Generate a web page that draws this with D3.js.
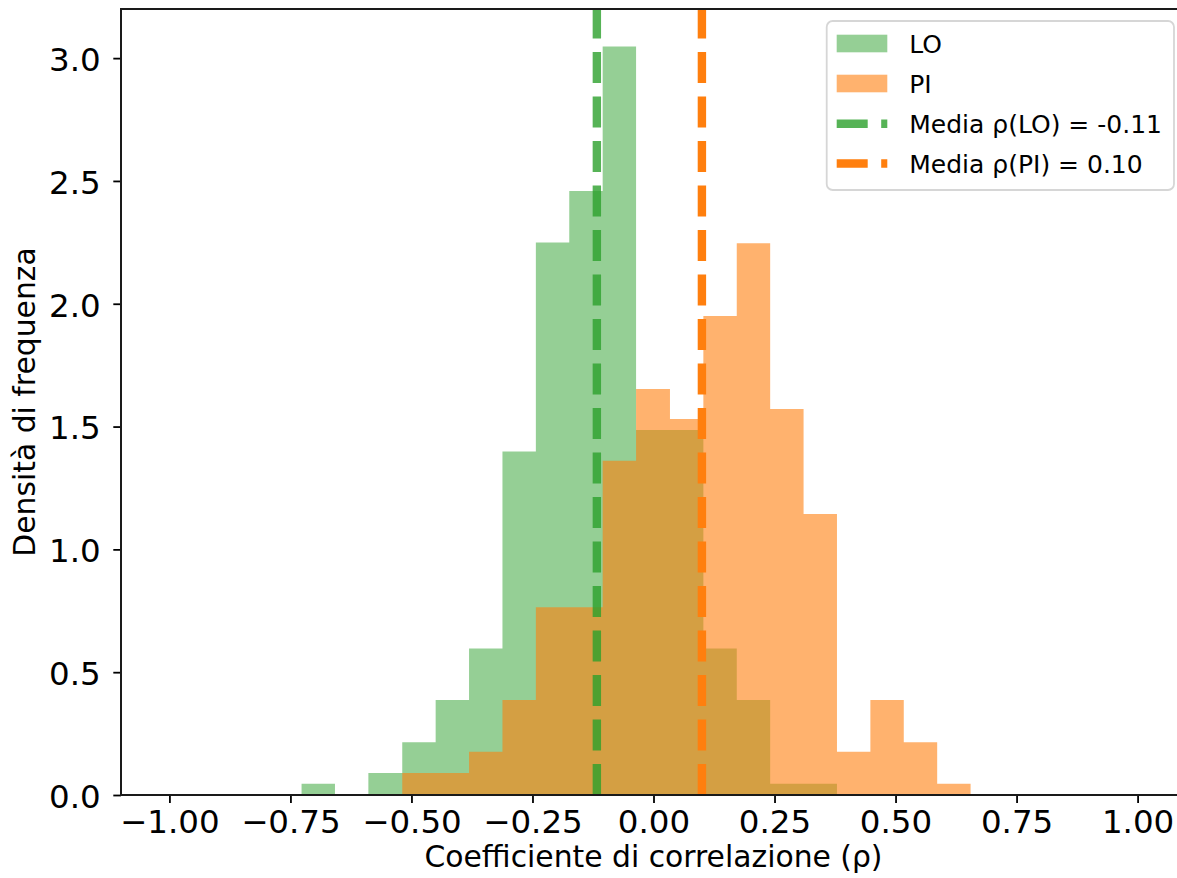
<!DOCTYPE html>
<html>
<head>
<meta charset="utf-8">
<script src="https://cdn.jsdelivr.net/npm/d3@7"></script>
<style>
  body { margin: 0; background: #fff; }
  svg { display: block; font-family: "DejaVu Sans", sans-serif; }
</style>
</head>
<body>
<svg></svg>
<script>
// shared bin edges of the two histograms (20 bins)
var binEdges = [-0.727, -0.658, -0.589, -0.519, -0.450, -0.381, -0.312, -0.243, -0.174, -0.105,
    -0.036, 0.034, 0.103, 0.172, 0.241, 0.310, 0.379, 0.448, 0.517, 0.586, 0.655];

// density per bin
var densityLO = [0.046, 0, 0.090, 0.215, 0.387, 0.596, 1.398, 2.249, 2.459, 3.047,
    1.486, 1.486, 0.596, 0.387, 0.046, 0.046, 0, 0, 0, 0];
var densityPI = [0, 0, 0, 0.090, 0.090, 0.176, 0.387, 0.764, 0.764, 1.361,
    1.653, 1.531, 1.950, 2.246, 1.572, 1.144, 0.176, 0.387, 0.215, 0.046];

var means = [-0.117, 0.100];
var seriesNames = ["LO", "PI"];
var meanLabels = ["Media ρ(LO) = -0.11", "Media ρ(PI) = 0.10"];

var xTicks = [-1, -0.75, -0.5, -0.25, 0, 0.25, 0.5, 0.75, 1];
var yTicks = [0, 0.5, 1, 1.5, 2, 2.5, 3];

var width = 1177,
    height = 878,
    plotLeft = 121,
    plotRight = 1186,
    plotTop = 9,
    plotBottom = 795;

var colors = { LO: "#2ca02c", PI: "#ff7f0e" };
var alphas = { LO: 0.5, PI: 0.6 };

var svg = d3.select("svg")
    .attr("width", width)
    .attr("height", height);

var x = d3.scaleLinear().domain([-1.1, 1.1]).range([plotLeft, plotRight]);
var y = d3.scaleLinear().domain([0, 3.2]).range([plotBottom, plotTop]);

svg.append("clipPath").attr("id", "plot")
    .append("rect")
    .attr("x", plotLeft).attr("y", plotTop)
    .attr("width", plotRight - plotLeft).attr("height", plotBottom - plotTop);

var plot = svg.append("g").attr("clip-path", "url(#plot)");

// each histogram as one stepped area, so neighbouring bars have no seams
var area = d3.area()
    .curve(d3.curveStepAfter)
    .x(d => x(d.x))
    .y0(y(0))
    .y1(d => y(d.v));

[densityLO, densityPI].forEach((dens, k) => {
    var name = seriesNames[k];
    var pts = dens.map((v, i) => ({ x: binEdges[i], v: v }));
    pts.push({ x: binEdges[dens.length], v: dens[dens.length - 1] });
    plot.append("path")
        .datum(pts)
        .attr("d", area)
        .attr("fill", colors[name])
        .attr("fill-opacity", alphas[name]);
});

// mean lines, drawn bottom to top so dashes start at the axis
means.forEach((m, k) => {
    plot.append("line")
        .attr("x1", x(m)).attr("x2", x(m))
        .attr("y1", y(0)).attr("y2", y(3.2))
        .attr("stroke", colors[seriesNames[k]])
        .attr("stroke-opacity", k == 0 ? 0.8 : 1)
        .attr("stroke-width", 8.4)
        .attr("stroke-dasharray", "31,13.5");
});

// axes
var fmtX = d => d3.format(".2f")(d).replace("-", "−");
var fmtY = d => d3.format(".1f")(d);

var xAxis = svg.append("g")
    .attr("transform", "translate(0," + plotBottom + ")")
    .call(d3.axisBottom(x).tickValues(xTicks).tickFormat(fmtX).tickSize(8).tickPadding(7));

var yAxis = svg.append("g")
    .attr("transform", "translate(" + plotLeft + ",0)")
    .call(d3.axisLeft(y).tickValues(yTicks).tickFormat(fmtY).tickSize(7.7).tickPadding(12.6));

[xAxis, yAxis].forEach(a => {
    a.select(".domain").remove();
    a.selectAll(".tick line").attr("stroke", "#000").attr("stroke-width", 1.8);
    a.selectAll(".tick text")
        .attr("fill", "#000")
        .style("font-size", "32.5px")
        .style("font-family", "DejaVu Sans");
});
yAxis.selectAll(".tick text").attr("dy", "0.38em");

// frame
svg.append("rect")
    .attr("x", plotLeft).attr("y", plotTop)
    .attr("width", plotRight - plotLeft).attr("height", plotBottom - plotTop)
    .attr("fill", "none")
    .attr("stroke", "#1a1a1a")
    .attr("stroke-width", 2);

svg.append("text")
    .attr("x", (plotLeft + plotRight) / 2)
    .attr("y", 867)
    .attr("text-anchor", "middle")
    .style("font-size", "29.8px")
    .text("Coefficiente di correlazione (ρ)");

svg.append("text")
    .attr("transform", "translate(35," + (plotTop + plotBottom) / 2 + ") rotate(-90)")
    .attr("text-anchor", "middle")
    .style("font-size", "29.8px")
    .text("Densità di frequenza");

// legend
var legend = svg.append("g");
legend.append("rect")
    .attr("x", 826.7).attr("y", 21)
    .attr("width", 347.3).attr("height", 169)
    .attr("rx", 6)
    .attr("fill", "#fff")
    .attr("fill-opacity", 0.8)
    .attr("stroke", "#d6d6d6")
    .attr("stroke-width", 1.8);

var rows = [43.5, 83.5, 123.8, 163.5];
var entries = [
    { label: seriesNames[0], type: "patch", key: "LO" },
    { label: seriesNames[1], type: "patch", key: "PI" },
    { label: meanLabels[0], type: "line", key: "LO" },
    { label: meanLabels[1], type: "line", key: "PI" }
];

entries.forEach((e, i) => {
    var cy = rows[i];
    if (e.type == "patch") {
        legend.append("rect")
            .attr("x", 836.7).attr("y", cy - 8.8)
            .attr("width", 50.6).attr("height", 17.6)
            .attr("fill", colors[e.key])
            .attr("fill-opacity", alphas[e.key]);
    } else {
        legend.append("line")
            .attr("x1", 836.7).attr("x2", 887.3)
            .attr("y1", cy).attr("y2", cy)
            .attr("stroke", colors[e.key])
            .attr("stroke-opacity", e.key == "LO" ? 0.8 : 1)
            .attr("stroke-width", 8.4)
            .attr("stroke-dasharray", "31,13.5");
    }
    legend.append("text")
        .attr("x", 909.3)
        .attr("y", cy + 9)
        .style("font-size", "25px")
        .text(e.label);
});
</script>
</body>
</html>
